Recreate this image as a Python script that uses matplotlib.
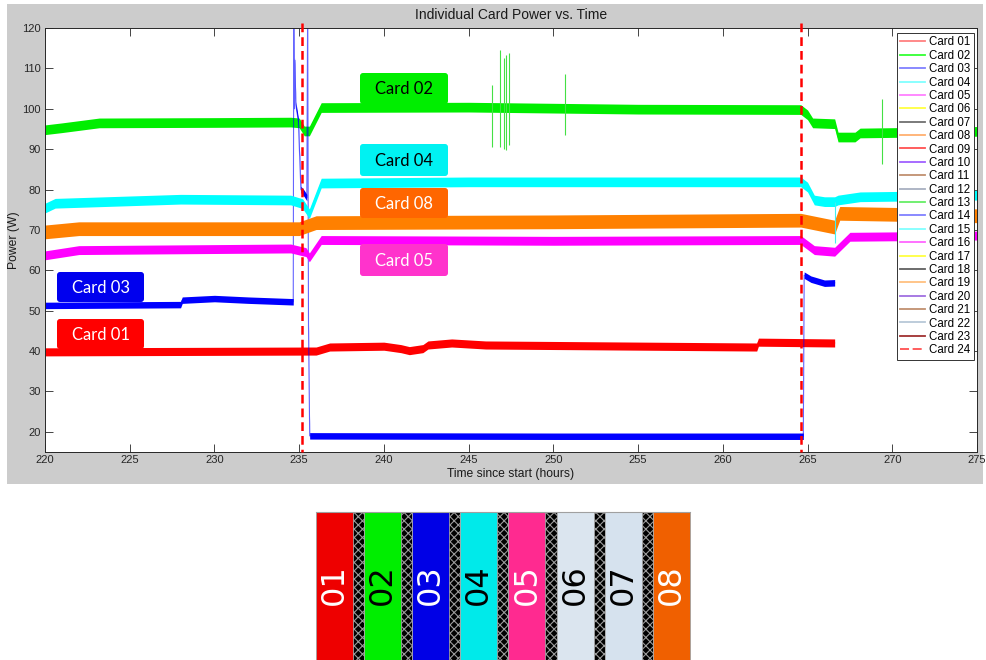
import numpy as np
import matplotlib
matplotlib.use('Agg')
import matplotlib.pyplot as plt
from matplotlib.patches import Rectangle, FancyBboxPatch
from matplotlib.lines import Line2D

# traces: time since start (h), power (W)
t01 = [220, 236, 236.8, 240, 241, 241.5, 242.3, 242.6, 244, 246, 262, 262.1, 266.6]
p01 = [39.8, 40.0, 41.0, 41.2, 40.6, 40.1, 40.6, 41.5, 42.0, 41.5, 41.0, 42.2, 42.0]

t02 = [220, 221, 223.2, 230, 234.5, 235.0, 235.3, 235.6, 236.3, 245, 255, 264.6, 265.0, 265.3, 266.6, 266.8, 267.8, 268.1, 275]
p02 = [94.8, 95.3, 96.5, 96.6, 96.7, 96.5, 94.5, 94.5, 100.3, 100.4, 99.9, 99.8, 98.5, 96.5, 96.3, 93.0, 93.0, 94.0, 94.4]

t03 = [220, 228, 228.1, 230, 232, 234.6, 234.65, 234.68, 234.72, 234.75, 234.8, 234.95, 235.1, 235.3, 235.45, 235.5, 235.55, 235.62, 250, 264.75, 264.8, 265.2, 266.0, 266.6]
p03 = [51.3, 51.5, 52.6, 53.0, 52.6, 52.2, 52.2, 125, 100, 112, 101, 97, 80, 79, 78, 125, 46, 19.0, 18.9, 18.9, 58.8, 57.8, 56.8, 56.9]

t04 = [220, 220.6, 228, 234.5, 235.2, 235.6, 236.3, 245, 264.6, 265.0, 265.4, 266.0, 266.6, 266.8, 268.1, 275]
p04 = [75.4, 76.6, 77.6, 77.4, 76.5, 74.0, 81.6, 81.9, 81.9, 80.6, 77.4, 77.0, 77.0, 77.4, 78.2, 78.6]

t05 = [220, 222, 234.5, 235.4, 235.6, 236.3, 250, 264.6, 265.4, 266.6, 267.5, 275]
p05 = [63.7, 65.0, 65.4, 64.5, 63.2, 67.5, 67.3, 67.5, 65.0, 64.6, 68.3, 68.6]

t08 = [220, 222, 235, 236, 250, 264.6, 266.6, 266.9, 275]
p08 = [69.5, 70.3, 70.3, 71.8, 72.0, 72.4, 70.7, 74.1, 73.5]

# noise half-width of each trace (W)
h01, h02, h03, h04, h05, h08 = 1.0, 1.2, 0.8, 1.2, 1.1, 1.7

# isolated spikes: time, low, high
spike_t = [246.4, 246.85, 247.1, 247.2, 247.4, 250.7, 269.4]
spike_lo = [90.6, 90.6, 90.0, 89.8, 91.0, 93.5, 86.3]
spike_hi = [106.0, 114.6, 112.6, 113.4, 113.8, 108.7, 102.4]
cyan_spike = [266.6, 66.7, 77.0]

# event markers (Card 24)
events = [235.18, 264.64]

cards = ['Card %02d' % i for i in range(1, 25)]
legend_colors = ['#ff8080', '#33ff33', '#8080ff', '#80ffff', '#ff80ff', '#ffff40',
                 '#707070', '#ffb070', '#ff5050', '#a060ff', '#c09070', '#a8b0c0',
                 '#66ee66', '#8080ff', '#80ffff', '#ff66ff', '#ffff40', '#606060',
                 '#ffc080', '#a070e0', '#c09070', '#b8c8d8', '#a03030', '#ff5050']

tags = ['Card 02', 'Card 04', 'Card 08', 'Card 05', 'Card 03', 'Card 01']
tag_colors = ['#00ee00', '#00f2f2', '#ff6600', '#ff33cc', '#0000ee', '#ff0000']
tag_text = ['black', 'black', 'white', 'white', 'white', 'white']

slots = ['01', '02', '03', '04', '05', '06', '07', '08']
slot_colors = ['#ee0000', '#00ee00', '#0000e6', '#00eaea', '#ff2a90', '#dbe5ef', '#d6e2ee', '#f06000']
slot_text = ['white', 'black', 'white', 'black', 'white', 'black', 'black', 'white']

W, H = 987, 660
fig = plt.figure(figsize=(W / 100, H / 100), dpi=100)
fig.patch.set_facecolor('white')

# pixel-space background (MATLAB grey figure)
bg = fig.add_axes([0, 0, 1, 1], zorder=0)
bg.set_xlim(0, W); bg.set_ylim(H, 0); bg.axis('off')
bg.add_patch(Rectangle((7, 4), 976, 480, facecolor='#cccccc', edgecolor='none'))

L, R, T, B = 45, 977, 28, 452
ax = fig.add_axes([L / W, 1 - B / H, (R - L) / W, (B - T) / H], zorder=1)
ax.set_facecolor('white')

def trace(t, p, h, c, z):
    t = np.array(t, float); p = np.array(p, float)
    ax.fill_between(t, p - h, p + h, color=c, lw=0, zorder=z)
    ax.plot(t, p, color=c, lw=0.8, alpha=0.6, zorder=z)

trace(t01, p01, h01, '#ff0000', 2)
trace(t02, p02, h02, '#00ee00', 2)
trace(t03, p03, h03, '#0000ff', 2)
trace(t04, p04, h04, '#00ffff', 2)
trace(t05, p05, h05, '#ff00ff', 2)
trace(t08, p08, h08, '#ff8000', 2)

ax.vlines(spike_t, spike_lo, spike_hi, color='#44e044', lw=0.8, zorder=2)
ax.vlines(cyan_spike[0], cyan_spike[1], cyan_spike[2], color='#40f0f0', lw=0.8, zorder=2)

for e in events:
    ax.plot([e, e], [121.2, 15], color='#ff0000', lw=1.8, dashes=(3.5, 2.0),
            clip_on=False, zorder=3)

ax.set_xlim(220, 275)
ax.set_ylim(15, 120)
ax.set_xticks(np.arange(220, 276, 5))
ax.set_yticks(np.arange(20, 121, 10))
ax.tick_params(direction='in', length=6, width=0.6, top=True, right=True,
               labelsize=8, colors='#262626', pad=3)
ax.tick_params(axis='x', pad=2)
for s in ax.spines.values():
    s.set_color('#262626'); s.set_linewidth(0.7)
for lab in ax.get_xticklabels() + ax.get_yticklabels():
    lab.set_family('Liberation Sans')

handles = [Line2D([], [], color=c, lw=1.3) for c in legend_colors]
handles[-1].set_linestyle((0, (5, 2)))
leg = ax.legend(handles, cards, loc='upper right', bbox_to_anchor=(974 / W, 1 - 33 / H),
                bbox_transform=fig.transFigure, borderaxespad=0, fancybox=False,
                framealpha=1, edgecolor='#333333', prop={'family': 'Liberation Sans', 'size': 8.3},
                labelspacing=0.12, handlelength=2.1, handletextpad=0.4, borderpad=0.3)
leg.get_frame().set_linewidth(0.7)
leg.set_zorder(5)

# overlay in pixel space: titles, tag boxes, slot strip
ov = fig.add_axes([0, 0, 1, 1], zorder=2)
ov.set_xlim(0, W); ov.set_ylim(H, 0); ov.axis('off')
ov.patch.set_alpha(0)

ov.text(511, 15, 'Individual Card Power vs. Time', ha='center', va='center',
        fontsize=10, family='Liberation Sans', color='#1a1a1a')
ov.text(511, 474, 'Time since start (hours)', ha='center', va='center',
        fontsize=8.7, family='Liberation Sans', color='#1a1a1a')
ov.text(14, 240, 'Power (W)', ha='center', va='center', rotation=90,
        fontsize=8.7, family='Liberation Sans', color='#1a1a1a')

tag_boxes = [(360, 73, 88, 31), (360, 144, 88, 32), (360, 188, 88, 30),
             (360, 244, 88, 32), (57, 272, 87, 30), (57, 319, 87, 30)]
for (x0, y0, w, h), name, fc, tc in zip(tag_boxes, tags, tag_colors, tag_text):
    ov.add_patch(FancyBboxPatch((x0, y0), w, h, boxstyle='round,pad=0,rounding_size=3',
                                facecolor=fc, edgecolor='none'))
    ov.text(x0 + w / 2, y0 + h / 2 + 1, name, ha='center', va='center', color=tc,
            fontsize=12, family='Lato')

plt.rcParams['hatch.linewidth'] = 0.8
x0, step, sw = 316, 48.1, 37
ov.plot([x0, x0 + 7 * step + sw], [512, 512], color='#a0a0a0', lw=0.8)
for i, (lab, fc, tc) in enumerate(zip(slots, slot_colors, slot_text)):
    xs = x0 + i * step
    if i < len(slots) - 1:
        ov.add_patch(Rectangle((xs + sw, 513), step - sw, 150, facecolor='black',
                               edgecolor='#9a9a9a', hatch='xxxx', lw=0))
    ov.add_patch(Rectangle((xs, 512), sw, 150, facecolor=fc, edgecolor='#a0a0a0', lw=0.6))
    ov.text(xs + sw / 2, 585, lab, rotation=90, ha='center', va='center', color=tc,
            fontsize=23, family='DejaVu Sans')

fig.savefig('out.png', dpi=100)
